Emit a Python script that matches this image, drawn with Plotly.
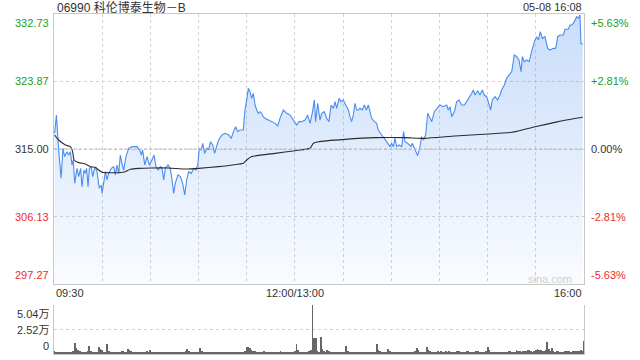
import plotly.graph_objects as go

# ---------------- data ----------------
title_text = "06990 科伦博泰生物－B"
stamp_text = "05-08 16:08"
prev_close = 315.00

# minutes since 09:30 (trading minutes; lunch break removed)
price_minutes = [0.4, 1.5, 2.9, 4.4, 5.6, 6.6, 8.1, 9.1, 10.2, 11.2, 12.0, 12.9, 14.3, 15.4, 16.6, 17.4, 18.7,
                 19.5, 20.3, 21.2, 22.0, 23.2, 24.1, 25.3, 26.6, 27.4, 28.2, 29.5, 29.9, 30.9, 32.0, 33.0, 34.0,
                 35.7, 37.2, 38.2, 39.2, 40.3, 41.3, 42.3, 43.4, 44.8, 46.5, 48.6, 51.7, 53.8, 54.4, 55.2, 56.5,
                 57.9, 59.4, 61.0, 62.3, 63.5, 64.8, 66.2, 67.2, 68.3, 69.3, 71.0, 72.4, 73.5, 74.5, 75.5, 77.2,
                 78.7, 80.1, 81.4, 82.6, 83.8, 85.5, 87.0, 88.4, 89.5, 90.5, 91.7, 92.6, 93.8, 95.3, 96.3, 97.5,
                 98.8, 100.0, 101.5, 102.5, 104.6, 106.7, 108.8, 110.4, 111.7, 113.1, 114.4, 115.8, 117.9, 118.9,
                 120.0, 121.0, 122.0, 123.1, 124.1, 125.2, 126.2, 127.2, 128.3, 129.3, 130.3, 131.4, 133.5, 135.5,
                 137.6, 139.3, 140.7, 142.8, 144.9, 146.9, 149.0, 151.1, 152.5, 154.2, 156.3, 157.9, 159.4, 160.8,
                 162.1, 162.9, 164.2, 165.6, 166.7, 168.3, 169.8, 171.2, 172.5, 173.9, 175.0, 176.0, 177.5, 178.7,
                 180.1, 181.2, 182.2, 183.3, 184.3, 185.3, 186.4, 187.4, 188.5, 189.5, 190.5, 192.0, 193.2, 194.5,
                 195.7, 196.8, 197.8, 199.5, 200.9, 201.9, 203.0, 204.0, 205.7, 207.1, 208.2, 209.2, 210.2, 211.3,
                 212.3, 213.4, 214.8, 216.5, 217.7, 218.5, 220.2, 222.3, 223.1, 224.8, 226.4, 227.9, 228.9, 230.0,
                 231.4, 232.7, 234.1, 235.2, 236.8, 238.3, 240.3, 242.4, 244.5, 245.5, 246.6, 247.6, 249.3, 250.7,
                 252.2, 253.8, 255.5, 256.9, 258.4, 260.1, 261.1, 262.1, 263.8, 265.2, 266.7, 267.9, 269.4, 270.8,
                 271.9, 272.9, 274.6, 276.2, 277.7, 278.7, 280.4, 281.8, 283.3, 285.0, 286.6, 288.1, 289.5, 290.8,
                 291.6, 292.8, 294.3, 295.8, 297.4, 299.1, 300.5, 301.6, 302.8, 304.1, 305.7, 307.4, 308.8, 310.9,
                 312.4, 313.6, 315.1, 317.1, 318.2, 320.2, 321.3, 322.3, 323.4, 324.4, 325.5, 326.5, 327.5, 328.1,
                 329.2]
price_values = [317.06, 319.47, 314.87, 311.15, 315.09, 314.00, 314.65, 314.21, 314.65, 312.90, 313.56, 310.49,
                312.46, 311.37, 312.46, 310.05, 312.24, 311.80, 312.46, 310.05, 312.46, 312.59, 311.37, 312.46,
                312.24, 310.71, 309.84, 310.27, 309.18, 310.49, 312.02, 310.93, 311.80, 312.46, 312.68, 311.59,
                312.90, 311.80, 314.21, 313.12, 312.24, 314.00, 315.09, 315.31, 315.31, 314.65, 314.21, 314.87,
                312.90, 314.00, 312.90, 313.56, 314.21, 312.68, 312.24, 312.68, 312.46, 310.93, 312.46, 312.90,
                312.46, 310.93, 309.18, 310.49, 311.59, 311.37, 310.49, 308.96, 310.93, 312.02, 311.80, 312.46,
                312.24, 312.90, 315.09, 314.87, 315.75, 314.43, 315.09, 314.87, 315.96, 315.53, 314.43, 315.53,
                316.18, 316.84, 317.06, 316.84, 316.40, 317.28, 317.93, 317.28, 317.50, 317.50, 320.12, 321.44,
                322.97, 322.53, 321.66, 322.31, 320.78, 320.12, 319.69, 319.90, 319.69, 319.25, 319.03, 318.81,
                318.59, 318.37, 318.02, 319.03, 320.12, 319.69, 319.47, 318.81, 318.15, 318.59, 318.59, 318.81,
                319.47, 318.37, 319.69, 321.44, 318.59, 321.00, 318.81, 319.69, 319.90, 319.03, 318.59, 320.78,
                320.34, 321.22, 320.34, 321.66, 321.22, 321.44, 321.00, 320.56, 320.12, 319.25, 318.59, 319.47,
                321.00, 320.12, 320.12, 320.34, 320.12, 320.78, 320.12, 320.78, 319.69, 319.03, 318.59, 318.37,
                317.50, 317.06, 316.84, 316.40, 315.96, 315.53, 315.31, 315.75, 315.31, 316.40, 315.31, 315.53,
                315.31, 317.28, 315.96, 315.75, 315.31, 315.75, 314.87, 314.13, 315.31, 316.62, 316.18, 316.84,
                319.69, 319.03, 318.59, 319.90, 320.34, 320.78, 320.56, 320.78, 320.12, 320.56, 319.25, 319.90,
                321.22, 321.44, 320.78, 320.78, 321.22, 321.66, 322.31, 322.75, 322.09, 322.66, 322.09, 322.75,
                322.09, 321.87, 321.00, 320.12, 321.44, 321.87, 321.44, 322.09, 322.75, 323.41, 324.28, 324.72,
                325.16, 327.35, 327.13, 326.69, 325.16, 327.13, 326.47, 326.69, 326.47, 327.78, 329.10, 329.75,
                329.32, 330.41, 329.54, 329.75, 328.22, 328.00, 328.22, 328.22, 329.75, 329.97, 329.97, 330.72,
                330.72, 331.29, 331.29, 331.50, 331.94, 332.38, 332.16, 332.60, 328.88, 328.75]

avg_minutes = [0.4, 2.9, 7.1, 10.2, 11.6, 12.5, 15.4, 19.5, 22.6, 25.7, 27.8, 29.9, 40.3, 44.4, 47.5, 52.7, 61.0,
               71.4, 81.8, 90.1, 102.5, 106.5, 110.8, 117.9, 120.0, 123.1, 137.6, 150.1, 159.4, 161.5, 164.6,
               181.2, 199.9, 218.5, 231.0, 249.7, 270.4, 285.0, 301.6, 314.0, 329.2]
avg_values = [316.84, 316.18, 315.53, 315.31, 314.65, 313.56, 313.21, 313.03, 312.68, 312.59, 312.24, 311.94,
              311.89, 312.02, 312.33, 312.46, 312.51, 312.51, 312.37, 312.46, 312.68, 312.77, 312.90, 313.12,
              313.56, 314.00, 314.43, 314.78, 315.09, 315.75, 315.96, 316.27, 316.49, 316.49, 316.40, 316.71,
              316.97, 317.19, 318.02, 318.59, 319.16]

# volume per minute (in lots of 100 shares), minutes 0..330
volume_lots = [
    30, 25, 20, 15, 18, 20, 12, 22, 25, 15, 20, 18, 30, 110, 60, 40, 35, 25, 20, 15, 12, 30, 80, 35, 25, 20, 18, 22, 70, 55,
    40, 25, 20, 100, 35, 20, 15, 18, 25, 20, 15, 22, 30, 28, 20, 18, 50, 45, 30, 20, 18, 15, 20, 25, 18, 15, 20, 22, 30, 18,
    45, 20, 15, 25, 18, 20, 15, 12, 18, 22, 25, 15, 18, 20, 15, 12, 15, 18, 20, 15, 12, 20, 30, 55, 35, 20, 15, 18, 20, 15,
    25, 60, 30, 20, 15, 18, 20, 15, 12, 15, 20, 18, 15, 20, 22, 15, 18, 20, 15, 12, 18, 20, 22, 25, 18, 20, 15, 18, 25, 30,
    75, 70, 60, 45, 35, 30, 25, 20, 18, 25, 22, 30, 20, 18, 15, 12, 15, 18, 20, 15, 18, 30, 20, 15, 12, 18, 25, 20, 15, 18,
    30, 100, 40, 25, 20, 15, 18, 20, 25, 30, 45, 504, 165, 160, 30, 25, 180, 50, 35, 25, 40, 30, 20, 25, 20, 18, 15, 20, 22, 25,
    20, 25, 80, 30, 25, 20, 22, 18, 15, 20, 22, 18, 20, 15, 18, 20, 15, 12, 20, 22, 25, 100, 40, 30, 25, 20, 22, 15, 50, 35,
    20, 18, 15, 12, 15, 18, 15, 20, 18, 15, 20, 22, 25, 15, 20, 30, 60, 40, 25, 20, 22, 18, 70, 40, 30, 25, 20, 22, 25, 28,
    25, 30, 20, 25, 28, 22, 30, 25, 20, 22, 25, 28, 30, 25, 22, 20, 25, 30, 28, 25, 22, 20, 25, 28, 30, 25, 20, 22, 25, 28,
    70, 40, 25, 20, 22, 25, 20, 18, 22, 25, 20, 22, 25, 28, 30, 25, 22, 25, 40, 35, 30, 25, 28, 30, 35, 40, 38, 30, 25, 30,
    45, 50, 40, 45, 35, 30, 40, 120, 50, 35, 65, 30, 25, 30, 35, 25, 20, 25, 30, 28, 35, 30, 25, 30, 35, 28, 30, 35, 40, 30, 130,
]
volume_shares = [v * 100 for v in volume_lots]
volume_minutes = list(range(len(volume_lots)))

price_ticks = [332.73, 323.87, 315.00, 306.13, 297.27]
price_tick_text = ["332.73", "323.87", "315.00", "306.13", "297.27"]
pct_tick_text = ["+5.63%", "+2.81%", "0.00%", "-2.81%", "-5.63%"]
vol_ticks = [50400, 25200, 0]
vol_tick_text = ["5.04万", "2.52万", "0"]
time_ticks = [0, 150, 330]
time_tick_text = ["09:30", "12:00/13:00", "16:00"]
grid_minutes = list(range(0, 331, 30))

# ---------------- style ----------------
FONT = "Liberation Sans, Arial, Noto Sans CJK SC, sans-serif"
GREEN = "#1c9f1c"
RED = "#f02b2b"
DARK = "#333333"
GRID = "#d3d3d3"
BORDER = "#c8c8c8"
X0, X1 = 54 / 640, 584 / 640
MAIN_DOM = [1 - 284 / 360, 1 - 14 / 360]
VOL_DOM = [1 - 354 / 360, 1 - 305 / 360]

fig = go.Figure()

# baseline for the area fill
fig.add_trace(go.Scatter(x=[price_minutes[0], price_minutes[-1]], y=[price_ticks[-1], price_ticks[-1]],
                         mode="lines", line=dict(width=0), hoverinfo="skip", showlegend=False,
                         xaxis="x", yaxis="y"))
fig.add_trace(go.Scatter(x=price_minutes, y=price_values, mode="lines",
                         line=dict(color="#4a8cf0", width=1.1), fill="tonexty",
                         fillgradient=dict(type="vertical", start=price_ticks[-1], stop=price_ticks[0],
                                           colorscale=[[0, "rgba(74,140,240,0.03)"],
                                                       [1, "rgba(74,140,240,0.30)"]]),
                         showlegend=False, xaxis="x", yaxis="y"))
fig.add_trace(go.Scatter(x=avg_minutes, y=avg_values, mode="lines",
                         line=dict(color="#2b2b2b", width=1.1, shape="spline", smoothing=0.5),
                         showlegend=False, xaxis="x", yaxis="y"))
fig.add_trace(go.Bar(x=volume_minutes, y=volume_shares, width=0.5, marker=dict(color="#666666", line=dict(width=0)),
                     showlegend=False, xaxis="x2", yaxis="y2"))

fig.update_layout(
    width=640, height=360, margin=dict(l=0, r=0, t=0, b=0),
    paper_bgcolor="white", plot_bgcolor="white",
    font=dict(family=FONT, size=11, color=DARK),
    bargap=0,
    xaxis=dict(domain=[X0, X1], range=[0, 330], tickvals=grid_minutes, showticklabels=False, ticks="",
               showgrid=True, gridcolor=GRID, griddash="dot", gridwidth=1, zeroline=False,
               showline=True, mirror=True, linecolor=BORDER, linewidth=1, anchor="y"),
    yaxis=dict(domain=MAIN_DOM, range=[price_ticks[-1], price_ticks[0]], tickvals=price_ticks,
               showticklabels=False, ticks="", showgrid=True, gridcolor=GRID, griddash="dot",
               zeroline=False, showline=True, mirror=True, linecolor=BORDER, linewidth=1, anchor="x"),
    xaxis2=dict(domain=[X0, X1], range=[0, 330], showticklabels=False, ticks="", showgrid=False,
                zeroline=False, showline=True, linecolor=BORDER, linewidth=1, anchor="y2"),
    yaxis2=dict(domain=VOL_DOM, range=[0, vol_ticks[0]], tickvals=vol_ticks, showticklabels=False, ticks="",
                showgrid=True, gridcolor=GRID, griddash="dot", zeroline=False, showline=True, mirror=True,
                linecolor=BORDER, linewidth=1, anchor="x2"),
)

# previous close reference line
fig.add_shape(type="line", xref="x", yref="y", x0=0, x1=330, y0=prev_close, y1=prev_close,
              line=dict(color="#b5b5b5", width=1, dash="3px,2px"))

ann = []
# titles
ann.append(dict(text=title_text, xref="paper", yref="paper", x=55 / 640, y=1 - 7 / 360,
                xanchor="left", yanchor="middle", showarrow=False, font=dict(size=12, color=DARK)))
ann.append(dict(text=stamp_text, xref="paper", yref="paper", x=584 / 640, y=1 - 7 / 360,
                xanchor="right", yanchor="middle", showarrow=False, font=dict(size=11, color=DARK)))


def tick_color(i, n):
    mid = n // 2
    return GREEN if i < mid else (DARK if i == mid else RED)


for i, (v, lt, rt) in enumerate(zip(price_ticks, price_tick_text, pct_tick_text)):
    c = tick_color(i, len(price_ticks))
    ya = "top" if i == 0 else ("bottom" if i == len(price_ticks) - 1 else "middle")
    ann.append(dict(text=lt, xref="paper", yref="y", x=51 / 640, y=v, xanchor="right", yanchor=ya,
                    showarrow=False, font=dict(size=11, color=c), yshift=(-1 if i == 0 else (1 if ya == "bottom" else 0))))
    ann.append(dict(text=rt, xref="paper", yref="y", x=589 / 640, y=v, xanchor="left", yanchor=ya,
                    showarrow=False, font=dict(size=11, color=c), yshift=(-1 if i == 0 else (1 if ya == "bottom" else 0))))

for i, (v, t) in enumerate(zip(vol_ticks, vol_tick_text)):
    ya = "top" if i == 0 else ("bottom" if i == len(vol_ticks) - 1 else "middle")
    ann.append(dict(text=t, xref="paper", yref="y2", x=51 / 640, y=v, xanchor="right", yanchor=ya,
                    showarrow=False, font=dict(size=11, color=DARK), yshift=(-1 if i == 0 else 0)))

for i, (m, t) in enumerate(zip(time_ticks, time_tick_text)):
    xa = "left" if i == 0 else ("right" if i == len(time_ticks) - 1 else "center")
    ann.append(dict(text=t, xref="x", yref="paper", x=m, y=1 - 293 / 360, xanchor=xa, yanchor="middle",
                    showarrow=False, font=dict(size=11, color=DARK)))

# watermark
ann.append(dict(text="sina.com", xref="paper", yref="paper", x=574 / 640, y=1 - 279 / 360,
                xanchor="right", yanchor="middle", showarrow=False, font=dict(size=11, color="#d0d0d0")))

fig.update_layout(annotations=ann)
fig.write_html("out.html")
